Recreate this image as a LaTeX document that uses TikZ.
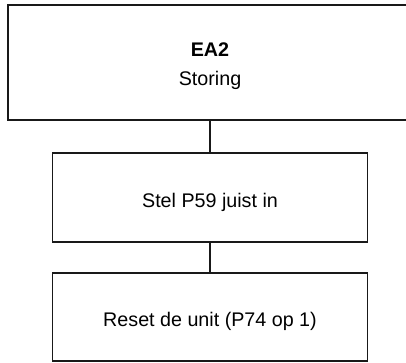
\documentclass[tikz,border=0pt]{standalone}
\usepackage{fontspec}
\setmainfont{Liberation Sans}
\begin{document}
\begin{tikzpicture}[x=1pt,y=-1pt,
  box/.style={draw=black!90, line width=1.3pt, rectangle, inner sep=0pt},
  txt/.style={anchor=base, inner sep=0pt, font=\fontsize{19.7}{24}\selectfont},
  link/.style={draw=black!90, line width=1.3pt}]
  \useasboundingbox (0,0) rectangle (406,362);
  \begin{scope}
  \clip (0,0) rectangle (406,362);
  % boxes
  \node[box, minimum width=404pt, minimum height=115pt] (fault) at (210,62.5) {};
  \node[box, minimum width=315pt, minimum height=89pt] (adjust) at (210,197.4) {};
  \node[box, minimum width=315pt, minimum height=88pt] (reset) at (210,317) {};
  % texts, placed on their baselines
  \node[txt] (faultcode) at (210,56) {\textbf{EA2}};
  \node[txt] (faultname) at (210,85) {Storing};
  \node[txt] (adjusttext) at (210,207) {Stel P59 juist in};
  \node[txt] (resettext) at (210,326) {Reset de unit (P74 op 1)};
  % connectors
  \draw[link] (fault.south) -- (adjust.north);
  \draw[link] (adjust.south) -- (reset.north);
  \end{scope}
\end{tikzpicture}
\end{document}
